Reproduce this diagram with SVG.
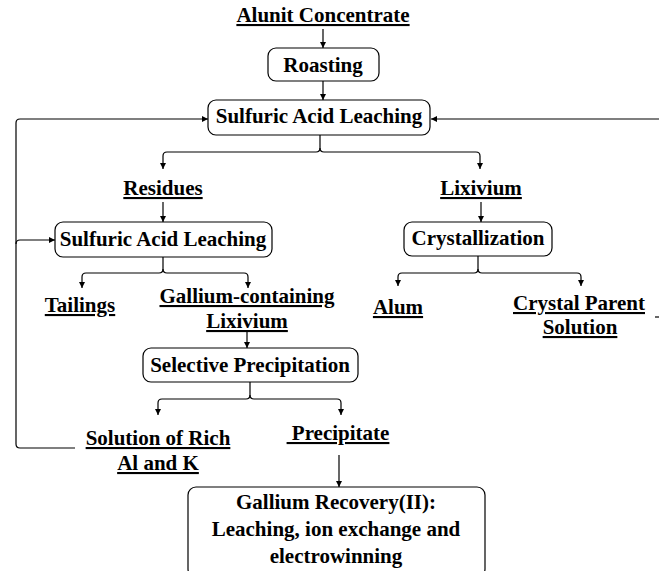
<svg xmlns="http://www.w3.org/2000/svg" width="659" height="571" viewBox="0 0 659 571">
<style>
text{font-family:"Liberation Serif","Times New Roman",serif;font-weight:bold;font-size:21px;fill:#000;text-anchor:middle}
.u{text-decoration:underline}
.box{fill:#fff;stroke:#000;stroke-width:1.2}
.ln{fill:none;stroke:#000;stroke-width:1.2}
</style>
<defs>
<marker id="ah" viewBox="0 0 8 8" refX="8" refY="4" markerWidth="6" markerHeight="6" markerUnits="userSpaceOnUse" orient="auto">
<path d="M0,0 L8,4 L0,8 z" fill="#000"/>
</marker>
</defs>
<g id="connectors">
<path class="ln" d="M323,29 V48" marker-end="url(#ah)"/>
<path class="ln" d="M323,81 V100" marker-end="url(#ah)"/>
<path class="ln" d="M320,135 V148 Q320,152 316,152 H167 Q163,152 163,156 V169" marker-end="url(#ah)"/>
<path class="ln" d="M320,148 Q320,152 324,152 H476 Q480,152 480,156 V169" marker-end="url(#ah)"/>
<path class="ln" d="M659,119 H431" marker-end="url(#ah)"/>
<path class="ln" d="M75,448 H20 Q16,448 16,444 V123 Q16,119 20,119 H208" marker-end="url(#ah)"/>
<path class="ln" d="M16,244 Q16,240 20,240 H55" marker-end="url(#ah)"/>
<path class="ln" d="M163,202 V222" marker-end="url(#ah)"/>
<path class="ln" d="M481,202 V222" marker-end="url(#ah)"/>
<path class="ln" d="M163,257 V269 Q163,273 159,273 H86 Q82,273 82,277 V288" marker-end="url(#ah)"/>
<path class="ln" d="M163,269 Q163,273 167,273 H244 Q248,273 248,277 V288" marker-end="url(#ah)"/>
<path class="ln" d="M478,256 V269 Q478,273 474,273 H402 Q398,273 398,277 V286" marker-end="url(#ah)"/>
<path class="ln" d="M478,269 Q478,273 482,273 H577 Q581,273 581,277 V286" marker-end="url(#ah)"/>
<path class="ln" d="M247,330 V348" marker-end="url(#ah)"/>
<path class="ln" d="M250,382 V395 Q250,399 246,399 H162 Q158,399 158,403 V415" marker-end="url(#ah)"/>
<path class="ln" d="M250,395 Q250,399 254,399 H337 Q341,399 341,403 V415" marker-end="url(#ah)"/>
<path class="ln" d="M339,455 V487" marker-end="url(#ah)"/>
<path class="ln" d="M655,317 H659"/>
</g>
<g id="alunit"><text class="u" x="323" y="22">Alunit Concentrate</text></g>
<g id="roasting"><rect class="box" x="268" y="48" width="111" height="33" rx="8"/><text x="323" y="72">Roasting</text></g>
<g id="leach1"><rect class="box" x="208" y="100" width="222" height="35" rx="8"/><text x="319" y="123">Sulfuric Acid Leaching</text></g>
<g id="residues"><text class="u" x="163" y="195">Residues</text></g>
<g id="lixivium"><text class="u" x="481" y="195">Lixivium</text></g>
<g id="leach2"><rect class="box" x="55" y="222" width="217" height="35" rx="8"/><text x="163" y="246">Sulfuric Acid Leaching</text></g>
<g id="crystallization"><rect class="box" x="404" y="222" width="148" height="34" rx="8"/><text x="478" y="245">Crystallization</text></g>
<g id="tailings"><text class="u" x="80" y="312">Tailings</text></g>
<g id="ga-lixivium"><text class="u" x="247" y="303">Gallium-containing</text><text class="u" x="247" y="328">Lixivium</text></g>
<g id="alum"><text class="u" x="398" y="314">Alum</text></g>
<g id="parent"><text class="u" x="579" y="310">Crystal Parent</text><text class="u" x="580" y="334">Solution</text></g>
<g id="selprec"><rect class="box" x="143" y="348" width="215" height="34" rx="8"/><text x="250" y="372">Selective Precipitation</text></g>
<g id="solution"><text class="u" x="158" y="445">Solution of Rich</text><text class="u" x="158" y="470">Al and K</text></g>
<g id="precipitate"><text class="u" x="338" y="440">&#160;Precipitate</text></g>
<g id="recovery"><rect class="box" x="188" y="487" width="297" height="90" rx="8"/><text x="336" y="509">Gallium Recovery(II):</text><text x="336" y="536">Leaching, ion exchange and</text><text x="336" y="563">electrowinning</text></g>
</svg>
